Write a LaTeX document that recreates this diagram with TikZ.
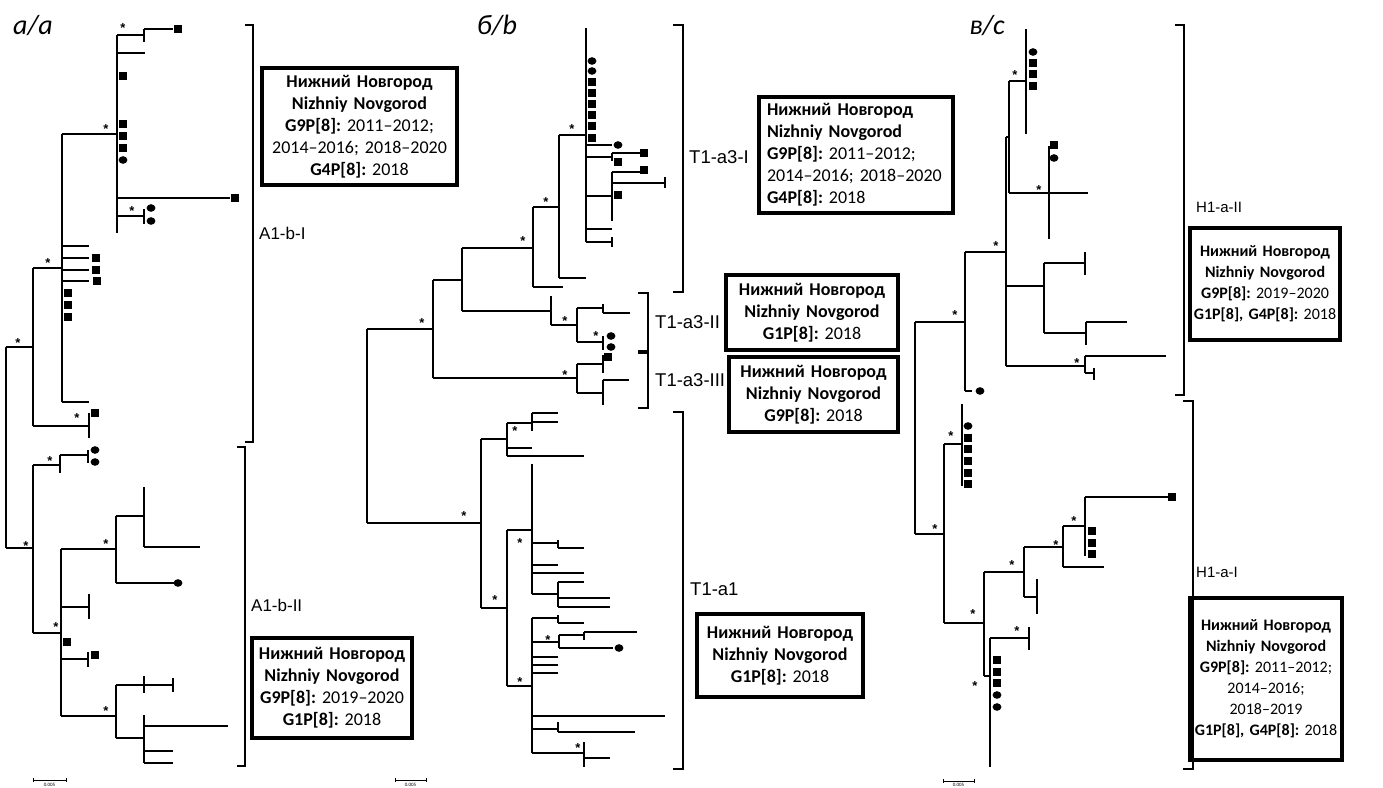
\documentclass[tikz,border=0pt]{standalone}
\usepackage{fontspec}
\setmainfont{Carlito}
\newfontfamily\arialf{Liberation Sans}
\frenchspacing
\newcounter{stc}
\newcommand\mkSt[2]{\stepcounter{stc}\node[ast] (st\arabic{stc}) at (#1,#2) {*};}
\newcommand\mkSq[2]{\fill ({#1-4},{#2-4}) rectangle ({#1+4},{#2+4});}
\newcommand\mkCi[2]{\fill (#1,#2) ellipse [x radius=4.4pt, y radius=3.8pt];}
\begin{document}
\begin{tikzpicture}[x=1pt,y=-1pt,
  tr/.style={line width=1.3pt},
  brk/.style={line width=2.2pt},
  ast/.style={font=\arialf\bfseries\fontsize{13}{13}\selectfont, inner sep=0pt, yshift=-2.8pt},
  box/.style={draw, line width=3.5pt, inner sep=0pt, align=center, font=\fontsize{18}{22}\selectfont},
  sbox/.style={draw, line width=3.5pt, inner sep=0pt, align=center, font=\fontsize{16}{21}\selectfont},
  clab/.style={anchor=west, inner sep=0pt, font=\arialf\fontsize{17}{20}\selectfont},
  tlab/.style={anchor=west, inner sep=0pt, font=\arialf\fontsize{18.5}{22}\selectfont},
  hlab/.style={anchor=west, inner sep=0pt, font=\arialf\fontsize{15}{18}\selectfont},
  plab/.style={inner sep=0pt, font=\itshape\fontsize{28}{30}\selectfont},
  sc/.style={line width=0.6pt},
  sct/.style={inner sep=0pt, font=\fontsize{5}{5}\selectfont}]
\fill[white] (0,0) rectangle (1383,787);
\useasboundingbox (0,0) rectangle (1383,787);

% ================= panel a =================
\node[plab] (pa) at (33,26) {а/a};
\draw[tr] (6,347)--(6,548) (6,347)--(33,347) (33,268)--(33,426)
  (33,268)--(62,268) (62,134)--(62,402) (62,134)--(117,134) (117,35)--(117,233)
  (117,35)--(144,35) (144,29)--(144,42) (144,29)--(173,29)
  (117,53)--(145,53) (117,198)--(230,198)
  (117,216)--(144,216) (144,209)--(144,224)
  (62,246)--(89,246) (62,258)--(89,258) (62,270)--(89,270) (62,281)--(89,281) (62,402)--(89,402)
  (33,426)--(89,426) (89,413)--(89,438);
\mkSt{18}{340}\mkSt{48}{260}\mkSt{106}{126}\mkSt{123}{25}\mkSt{132}{208}\mkSt{77}{415}
\mkSq{178}{29}\mkSq{123}{76}\mkSq{123}{124}\mkSq{123}{136}\mkSq{123}{148}\mkCi{123}{160}
\mkSq{235}{198}\mkCi{151}{208}\mkCi{151}{221}
\mkSq{96}{258}\mkSq{96}{270}\mkSq{97}{281}\mkSq{68}{293}\mkSq{68}{305}\mkSq{68}{317}
\mkSq{95}{413}
% lower
\draw[tr] (6,548)--(33,548) (33,465)--(33,633)
  (33,465)--(60,465) (60,455)--(60,473) (60,455)--(88,455) (88,450)--(88,463)
  (33,633)--(61,633) (61,549)--(61,716)
  (61,549)--(116,549) (116,516)--(116,583) (116,516)--(144,516) (144,487)--(144,547) (144,547)--(200,547)
  (116,583)--(175,583)
  (61,607)--(89,607) (89,594)--(89,619)
  (61,659)--(88,659) (88,652)--(88,667)
  (61,716)--(116,716) (116,685)--(116,738)
  (116,685)--(144,685) (144,676)--(144,693) (144,685)--(173,685) (173,678)--(173,692)
  (116,738)--(144,738) (144,715)--(144,763) (144,726)--(228,726) (144,751)--(173,751) (144,763)--(173,763);
\mkSt{26}{543}\mkSt{50}{458}\mkSt{56}{624}\mkSt{106}{541}\mkSt{106}{708}
\mkCi{95}{450}\mkCi{95}{462}\mkCi{178}{583}\mkSq{67}{642}\mkSq{95}{655}
% brackets a
\draw[brk] (245,25)--(253,25)--(253,442)--(245,442);
\draw[brk] (237,447)--(245,447)--(245,766)--(237,766);
\node[clab] (la1) at (259,233) {A1-b-I};
\node[clab] (la2) at (251,605) {A1-b-II};
\node[box, minimum width=195, minimum height=117, text width=188] (ba1) at (359.5,126.5)
 {\textbf{Нижний Новгород}\\\textbf{Nizhniy Novgorod}\\\textbf{G9P[8]:} 2011–2012;\\2014–2016; 2018–2020\\\textbf{G4P[8]:} 2018};
\node[box, minimum width=160, minimum height=100, text width=156] (ba2) at (332,688)
 {\textbf{Нижний Новгород}\\\textbf{Nizhniy Novgorod}\\\textbf{G9P[8]:} 2019–2020\\\textbf{G1P[8]:} 2018};
\coordinate (sa1) at (33,780); \coordinate (sa2) at (66,780);
\draw[sc] (sa1)--(sa2) (33,778)--(33,782) (66,778)--(66,782);
\node[sct] (ta) at (49.5,784.5) {0.005};

% ================= panel b =================
\node[plab] (pb) at (497,25) {б/b};
\draw[tr] (367,329)--(367,523) (367,329)--(433,329) (433,280)--(433,378)
  (433,280)--(462,280) (462,248)--(462,311) (462,248)--(533,248)
  (533,207)--(533,287) (533,287)--(563,287) (533,207)--(559,207)
  (559,135)--(559,278) (559,278)--(586,278) (559,135)--(586,135)
  (586,28)--(586,242)
  (586,145)--(612,145)
  (586,157)--(612,157) (612,153)--(612,161) (612,153)--(640,153)
  (586,196)--(612,196) (612,172)--(612,221) (612,172)--(640,172) (612,183)--(665,183) (665,177)--(665,188)
  (586,229)--(612,229)
  (586,242)--(612,242) (612,237)--(612,247)
  (462,311)--(551,311) (551,296)--(551,325) (551,325)--(577,325)
  (577,308)--(577,342) (577,308)--(603,308) (603,304)--(603,313) (603,313)--(630,313)
  (577,342)--(603,342) (603,336)--(603,350)
  (433,378)--(577,378) (577,364)--(577,393) (577,364)--(603,364) (603,355)--(603,373)
  (577,393)--(603,393) (603,380)--(603,405) (603,380)--(629,380);
\mkSt{422}{320}\mkSt{523}{238}\mkSt{546}{199}\mkSt{572}{126}\mkSt{565}{318}\mkSt{596}{333}\mkSt{565}{372}
\mkCi{592}{61}\mkCi{592}{71}\mkSq{592}{82}\mkSq{592}{93}\mkSq{592}{104}\mkSq{592}{115}\mkSq{592}{126}\mkSq{592}{138}
\mkCi{618}{145}\mkSq{644}{153}\mkSq{618}{162}\mkSq{644}{170}\mkSq{618}{195}
\mkCi{611}{336}\mkCi{611}{347}\mkSq{608}{357}
% lower b
\draw[tr] (367,523)--(481,523) (481,439)--(481,608)
  (481,439)--(507,439) (507,423)--(507,456) (507,423)--(532,423) (532,413)--(532,431)
  (532,413)--(558,413) (532,422)--(558,422) (507,448)--(532,448) (507,456)--(584,456)
  (481,608)--(507,608) (507,530)--(507,686)
  (507,530)--(532,530) (532,464)--(532,594)
  (532,543)--(558,543) (558,540)--(558,548) (558,548)--(584,548)
  (532,565)--(558,565) (532,573)--(584,573)
  (532,594)--(558,594) (558,582)--(558,607) (558,582)--(584,582) (558,598)--(610,598) (558,607)--(610,607)
  (507,686)--(532,686) (532,618)--(532,753)
  (532,618)--(558,618) (558,615)--(558,623) (558,623)--(584,623)
  (532,642)--(559,642) (559,635)--(559,648) (559,635)--(584,635) (584,632)--(584,640) (584,632)--(637,632)
  (559,648)--(613,648)
  (532,657)--(558,657) (532,665)--(558,665) (532,673)--(558,673)
  (532,716)--(665,716)
  (532,729)--(558,729) (558,722)--(558,732) (558,732)--(635,732)
  (532,753)--(584,753) (584,742)--(584,767) (584,758)--(610,758);
\mkSt{464}{513}\mkSt{515}{428}\mkSt{495}{597}\mkSt{520}{540}\mkSt{520}{679}\mkSt{548}{637}\mkSt{578}{745}
\mkCi{619}{648}
% brackets b
\draw[brk] (673,25)--(683,25)--(683,292)--(673,292);
\draw[brk] (638,293)--(648,293)--(648,351)--(638,351);
\draw[brk] (638,353)--(648,353)--(648,408)--(638,408);
\draw[brk] (673,412)--(683,412)--(683,769)--(673,769);
\node[tlab] (lb1) at (689,157) {T1-a3-I};
\node[tlab] (lb2) at (655,322) {T1-a3-II};
\node[tlab] (lb3) at (655,380) {T1-a3-III};
\node[tlab] (lb4) at (690,589) {T1-a1};
\node[box, align=left, minimum width=194, minimum height=116, text width=178] (bb1) at (856,155)
 {\textbf{Нижний Новгород}\\\textbf{Nizhniy Novgorod}\\\textbf{G9P[8]:} 2011–2012;\\2014–2016; 2018–2020\\\textbf{G4P[8]:} 2018};
\node[box, minimum width=172, minimum height=75, text width=166] (bb2) at (812,312.5)
 {\textbf{Нижний Новгород}\\\textbf{Nizhniy Novgorod}\\\textbf{G1P[8]:} 2018};
\node[box, minimum width=169, minimum height=75, text width=163] (bb3) at (813.5,394.5)
 {\textbf{Нижний Новгород}\\\textbf{Nizhniy Novgorod}\\\textbf{G9P[8]:} 2018};
\node[box, minimum width=166, minimum height=83, text width=160] (bb4) at (780,655.5)
 {\textbf{Нижний Новгород}\\\textbf{Nizhniy Novgorod}\\\textbf{G1P[8]:} 2018};
\coordinate (sb1) at (395,780); \coordinate (sb2) at (426,780);
\draw[sc] (sb1)--(sb2) (395,778)--(395,782) (426,778)--(426,782);
\node[sct] (tb) at (410.5,784.5) {0.005};

% ================= panel c =================
\node[plab] (pc) at (987,26) {в/c};
\draw[tr] (915,322)--(915,534) (915,322)--(965,322) (965,252)--(965,391) (965,391)--(972,391)
  (965,252)--(1006,252) (1006,137)--(1006,366) (1006,137)--(1009,137)
  (1009,81)--(1009,193) (1009,81)--(1026,81) (1026,29)--(1026,134)
  (1009,193)--(1088,193) (1049,146)--(1049,239)
  (1006,286)--(1044,286) (1044,263)--(1044,333) (1044,263)--(1085,263) (1085,252)--(1085,275)
  (1044,333)--(1086,333) (1086,322)--(1086,345) (1086,322)--(1127,322)
  (1006,366)--(1085,366) (1085,356)--(1085,373) (1085,356)--(1166,356)
  (1085,373)--(1094,373) (1094,368)--(1094,380);
\mkSt{955}{312}\mkSt{996}{243}\mkSt{1015}{72}\mkSt{1039}{187}\mkSt{1077}{360}
\mkCi{1033}{52}\mkSq{1033}{63}\mkSq{1033}{74}\mkSq{1033}{86}
\mkSq{1054}{145}\mkCi{1054}{158}\mkCi{980}{391}
\draw[tr] (915,534)--(944,534) (944,444)--(944,623)
  (944,444)--(962,444) (962,404)--(962,486)
  (944,623)--(984,623) (984,572)--(984,676)
  (984,572)--(1024,572) (1024,547)--(1024,597)
  (1024,547)--(1063,547) (1063,526)--(1063,567)
  (1063,526)--(1085,526) (1085,497)--(1085,556) (1085,497)--(1168,497)
  (1063,567)--(1104,567)
  (1024,597)--(1037,597) (1037,579)--(1037,614)
  (984,676)--(990,676) (990,638)--(990,767)
  (990,638)--(1029,638) (1029,627)--(1029,650);
\draw[line width=2.4pt] (990,660)--(990,713);
\mkSt{935}{526}\mkSt{951}{433}\mkSt{973}{611}\mkSt{1012}{562}\mkSt{1056}{542}\mkSt{1074}{518}\mkSt{1017}{628}\mkSt{975}{683}
\mkCi{968}{426}\mkSq{968}{438}\mkSq{968}{449}\mkSq{968}{461}\mkSq{968}{473}\mkSq{968}{484}
\mkSq{1172}{497}\mkSq{1092}{531}\mkSq{1092}{543}\mkSq{1092}{554}
\mkSq{997}{660}\mkSq{997}{672}\mkSq{997}{683}\mkCi{997}{695}\mkCi{997}{707}
% brackets c
\draw[brk] (1175,25)--(1184,25)--(1184,395)--(1175,395);
\draw[brk] (1183,401)--(1193,401)--(1193,769)--(1183,769);
\node[hlab] (lc1) at (1196,207) {H1-a-II};
\node[hlab] (lc2) at (1196,572) {H1-a-I};
\node[sbox, minimum width=150, minimum height=112, text width=146] (bc1) at (1265,284)
 {\textbf{Нижний Новгород}\\\textbf{Nizhniy Novgorod}\\\textbf{G9P[8]:} 2019–2020\\\textbf{G1P[8], G4P[8]:} 2018};
\node[sbox, minimum width=152, minimum height=162, text width=148] (bc2) at (1266,679)
 {\textbf{Нижний Новгород}\\\textbf{Nizhniy Novgorod}\\\textbf{G9P[8]:} 2011–2012;\\2014–2016;\\2018–2019\\\textbf{G1P[8], G4P[8]:} 2018};
\coordinate (sc1) at (943,781); \coordinate (sc2) at (974,781);
\draw[sc] (sc1)--(sc2) (943,779)--(943,783) (974,779)--(974,783);
\node[sct] (tc) at (958.5,784.5) {0.005};
\end{tikzpicture}
\end{document}
